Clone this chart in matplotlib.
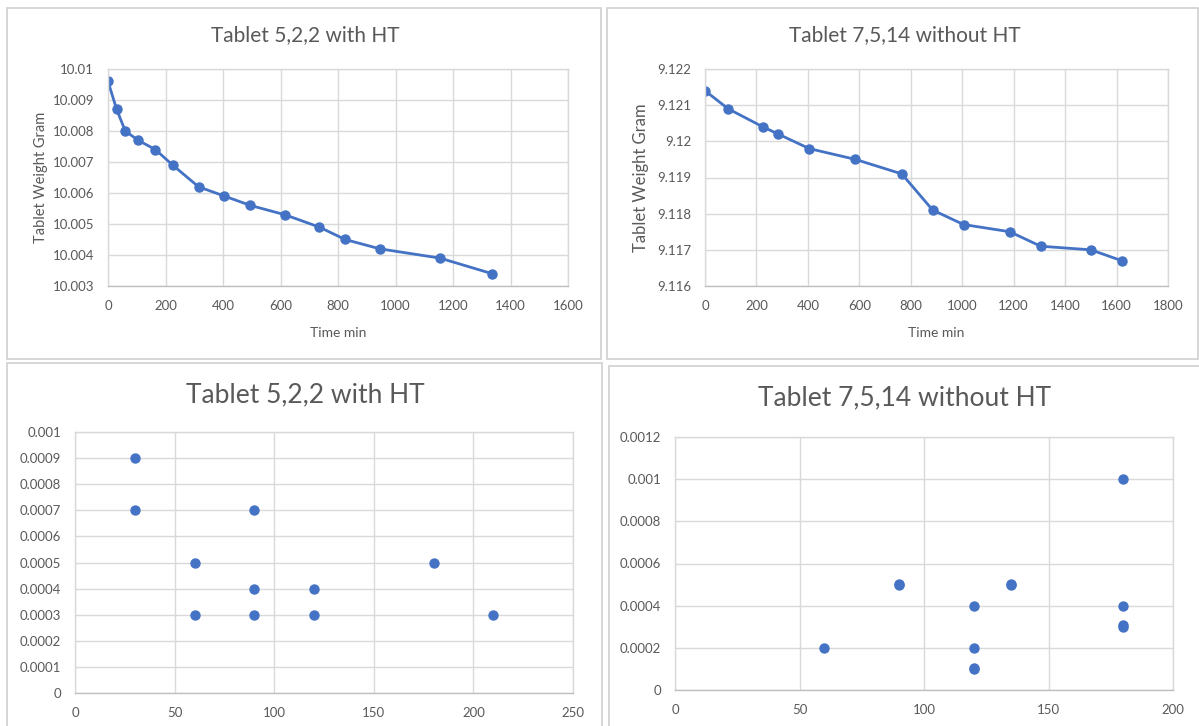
import matplotlib
matplotlib.use("Agg")
import matplotlib.pyplot as plt
from matplotlib.patches import Rectangle
from matplotlib.ticker import FuncFormatter, MultipleLocator

plt.rcParams['font.family'] = ['Lato', 'DejaVu Sans']

# Weight loss over time, tablet 5,2,2 (heat treated)
time_522 = [0, 30, 60, 105, 165, 225, 315, 405, 495, 615, 735, 825, 945, 1155, 1335]
weight_522 = [10.0096, 10.0087, 10.0080, 10.0077, 10.0074, 10.0069, 10.0062, 10.0059,
              10.0056, 10.0053, 10.0049, 10.0045, 10.0042, 10.0039, 10.0034]

# Weight loss over time, tablet 7,5,14 (no heat treatment)
time_7514 = [0, 90, 225, 285, 405, 585, 765, 885, 1005, 1185, 1305, 1500, 1620]
weight_7514 = [9.1214, 9.1209, 9.1204, 9.1202, 9.1198, 9.1195, 9.1191, 9.1181,
               9.1177, 9.1175, 9.1171, 9.1170, 9.1167]

# Weight differences per interval
interval_522 = [30, 30, 60, 60, 90, 90, 90, 120, 120, 180, 210]
delta_522 = [0.0009, 0.0007, 0.0005, 0.0003, 0.0007, 0.0004, 0.0003, 0.0004, 0.0003, 0.0005, 0.0003]

interval_7514 = [60, 90, 90, 120, 120, 120, 120, 135, 135, 180, 180, 180, 180]
delta_7514 = [0.0002, 0.0005, 0.000505, 0.0004, 0.0002, 0.0001, 0.000105, 0.0005, 0.000505,
              0.001, 0.0004, 0.0003, 0.00031]

W, H = 1199, 726
BLUE = '#4472C4'
TEXT = '#595959'
GRID = '#d9d9d9'

fig = plt.figure(figsize=(W / 100, H / 100), dpi=100)
fig.patch.set_facecolor('white')


def frame(x0, y0, x1, y1):
    fig.patches.append(Rectangle((x0 / W, 1 - y1 / H), (x1 - x0) / W, (y1 - y0) / H,
                                 transform=fig.transFigure, fill=False,
                                 edgecolor='#d0d0d0', linewidth=1.2))


def axes_px(x0, y0, x1, y1):
    return fig.add_axes([x0 / W, 1 - y1 / H, (x1 - x0) / W, (y1 - y0) / H])


def trim(v, pos=None):
    return f"{round(v, 7):.7f}".rstrip('0').rstrip('.')


def style(ax, fs):
    ax.grid(True, color=GRID, linewidth=1.0)
    ax.set_axisbelow(True)
    for sp in ax.spines.values():
        sp.set_color(GRID)
        sp.set_linewidth(1.0)
    ax.spines['bottom'].set_color('#bfbfbf')
    ax.tick_params(length=0, labelsize=fs, labelcolor=TEXT, pad=10)
    ax.yaxis.set_major_formatter(FuncFormatter(trim))


frame(7, 8, 601, 359)
frame(607, 8, 1198, 359)
frame(7, 363, 602, 730)
frame(609, 366, 1203, 730)

# Top-left: line chart
ax1 = axes_px(108, 69, 568, 286)
ax1.plot(time_522, weight_522, color=BLUE, linewidth=2.0, marker='o', markersize=6.5)
ax1.set_xlim(0, 1600)
ax1.set_ylim(10.003, 10.01)
ax1.xaxis.set_major_locator(MultipleLocator(200))
ax1.yaxis.set_major_locator(MultipleLocator(0.001))
style(ax1, 9.5)
ax1.set_xlabel('Time min', fontsize=10, color=TEXT, labelpad=11)
ax1.set_ylabel('Tablet Weight Gram', fontsize=10.5, color=TEXT, labelpad=3)
fig.text(305 / W, 1 - 35 / H, 'Tablet 5,2,2 with HT', ha='center', va='center',
         fontsize=15, color=TEXT)

# Top-right: line chart
ax2 = axes_px(705, 69, 1168, 286)
ax2.plot(time_7514, weight_7514, color=BLUE, linewidth=2.0, marker='o', markersize=6.5)
ax2.set_xlim(0, 1800)
ax2.set_ylim(9.116, 9.122)
ax2.xaxis.set_major_locator(MultipleLocator(200))
ax2.yaxis.set_major_locator(MultipleLocator(0.001))
style(ax2, 9.5)
ax2.set_xlabel('Time min', fontsize=10, color=TEXT, labelpad=11)
ax2.set_ylabel('Tablet Weight Gram', fontsize=12, color=TEXT, labelpad=6)
fig.text(905 / W, 1 - 35 / H, 'Tablet 7,5,14 without HT', ha='center', va='center',
         fontsize=15, color=TEXT)

# Bottom-left: scatter
ax3 = axes_px(75, 432, 573, 693)
ax3.scatter(interval_522, delta_522, color=BLUE, s=42, zorder=3)
ax3.set_xlim(0, 250)
ax3.set_ylim(0, 0.001)
ax3.xaxis.set_major_locator(MultipleLocator(50))
ax3.yaxis.set_major_locator(MultipleLocator(0.0001))
style(ax3, 9.5)
fig.text(305 / W, 1 - 395 / H, 'Tablet 5,2,2 with HT', ha='center', va='center',
         fontsize=19, color=TEXT)

# Bottom-right: scatter
ax4 = axes_px(675, 437, 1173, 690)
ax4.scatter(interval_7514, delta_7514, color=BLUE, s=42, zorder=3)
ax4.set_xlim(0, 200)
ax4.set_ylim(0, 0.0012)
ax4.xaxis.set_major_locator(MultipleLocator(50))
ax4.yaxis.set_major_locator(MultipleLocator(0.0002))
style(ax4, 9.5)
fig.text(905 / W, 1 - 398 / H, 'Tablet 7,5,14 without HT', ha='center', va='center',
         fontsize=19, color=TEXT)

fig.savefig('out.png', dpi=100, facecolor='white')
